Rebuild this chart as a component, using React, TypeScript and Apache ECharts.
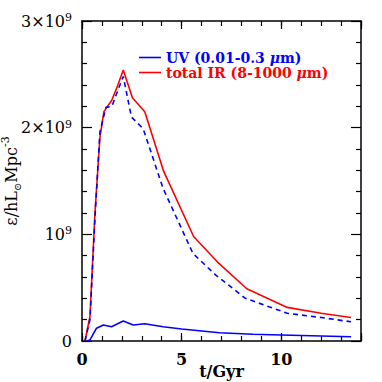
import React, { useEffect, useRef } from "react";
import * as echarts from "echarts";

// total IR (8-1000 um), units of 1e9 hL_sun Mpc^-3
const irT = [0.15, 0.4, 0.65, 0.9, 1.1, 1.5, 1.8, 2.07, 2.53, 3.15, 4.1, 5.6, 6.8, 8.27, 10.3, 12, 13.5];
const irV = [0, 0.23, 1.2, 1.91, 2.15, 2.26, 2.4, 2.54, 2.28, 2.15, 1.59, 0.98, 0.74, 0.49, 0.315, 0.26, 0.22];
// dashed (blue)
const dashT = [0.15, 0.4, 0.65, 0.9, 1.2, 1.5, 1.8, 2.07, 2.48, 3.07, 4.07, 5.57, 6.7, 8.2, 10.3, 12, 13.5];
const dashV = [0, 0.2, 1.15, 1.96, 2.19, 2.2, 2.35, 2.48, 2.1, 1.99, 1.43, 0.82, 0.62, 0.4, 0.26, 0.22, 0.18];
// UV (0.01-0.3 um)
const uvT = [0.25, 0.4, 0.73, 1.07, 1.48, 2.07, 2.57, 3.15, 4.07, 5, 6.9, 8.57, 10, 13.5];
const uvV = [0, 0.01, 0.12, 0.15, 0.134, 0.187, 0.15, 0.162, 0.134, 0.112, 0.078, 0.063, 0.056, 0.04];

const xMajorLabels = ["0", "5", "10"];
const yMantissa = ["0", "", "2×", "3×"];

const seriesNames = ["UV (0.01-0.3 μm)", "total IR (8-1000 μm)"];

const FONT = "DejaVu Serif";

export default function App() {
  const ref = useRef<HTMLDivElement>(null);
  useEffect(() => {
    if (!ref.current) return;
    const chart = echarts.init(ref.current, undefined, { renderer: "svg" });
    const zip = (t: number[], v: number[]) => t.map((x, i) => [x, v[i]]);
    const axLine = { show: true, onZero: false, lineStyle: { color: "#000", width: 1.5 } };
    const noLine = { show: false, onZero: false };
    const xBase = {
      type: "value",
      min: 0,
      max: 14,
      splitLine: { show: false },
      axisLine: axLine,
    };
    const yBase = {
      type: "value",
      min: 0,
      max: 3,
      interval: 1,
      splitLine: { show: false },
      axisLine: axLine,
      axisTick: { show: true, inside: true, length: 10, lineStyle: { color: "#000", width: 1.2 } },
      minorTick: { show: true, splitNumber: 5, length: 5, lineStyle: { color: "#000", width: 1.2 } },
    };
    const legendFmt = (name: string) => {
      const i = name.indexOf("μ");
      return "{a|" + name.slice(0, i) + "}{i|μ}{a|" + name.slice(i + 1) + "}";
    };
    chart.setOption({
      animation: false,
      grid: { left: 82, right: 21, top: 21, bottom: 41, containLabel: false, outerBoundsMode: "none" },
      legend: {
        orient: "vertical",
        left: 134,
        top: 45,
        icon: "rect",
        itemWidth: 22,
        itemHeight: 1.6,
        itemGap: 0,
        formatter: legendFmt,
        data: [
          { name: seriesNames[0], textStyle: { color: "#0000ff" } },
          { name: seriesNames[1], textStyle: { color: "#ff0000" } },
        ],
        textStyle: {
          fontFamily: FONT,
          fontSize: 14,
          fontWeight: "bold",
          lineHeight: 15,
          rich: {
            a: { fontFamily: FONT, fontSize: 14, fontWeight: "bold", lineHeight: 15 },
            i: { fontFamily: FONT, fontSize: 14, fontWeight: "bold", fontStyle: "italic", lineHeight: 15 },
          },
        },
      },
      xAxis: [
        {
          ...xBase,
          position: "bottom",
          interval: 5,
          axisTick: { show: true, inside: true, length: 8, lineStyle: { color: "#000", width: 1.2 } },
          axisLabel: {
            margin: 10,
            fontFamily: FONT,
            fontSize: 16,
            fontWeight: "bold",
            color: "#000",
            formatter: (v: number) => (v % 5 === 0 ? xMajorLabels[v / 5] ?? "" : ""),
          },
          name: "t/Gyr",
          nameLocation: "middle",
          nameGap: 22,
          nameMoveOverlap: false,
          nameTextStyle: { fontFamily: FONT, fontSize: 16, fontWeight: "bold", color: "#000" },
        },
        {
          ...xBase,
          position: "bottom",
          interval: 1,
          axisLine: noLine,
          axisTick: { show: true, inside: true, length: 5, lineStyle: { color: "#000", width: 1.2 } },
          axisLabel: { show: false },
        },
        {
          ...xBase,
          position: "top",
          interval: 5,
          axisTick: { show: true, inside: true, length: 8, lineStyle: { color: "#000", width: 1.2 } },
          axisLabel: { show: false },
        },
        {
          ...xBase,
          position: "top",
          interval: 1,
          axisLine: noLine,
          axisTick: { show: true, inside: true, length: 5, lineStyle: { color: "#000", width: 1.2 } },
          axisLabel: { show: false },
        },
      ],
      yAxis: [
        {
          ...yBase,
          position: "left",
          axisLabel: {
            margin: 10,
            color: "#000",
            formatter: (v: number) => {
              if (v === 0) return "{b|0}";
              return "{b|" + yMantissa[v] + "10}{s|9}";
            },
            rich: {
              b: { fontFamily: FONT, fontSize: 16, color: "#000", lineHeight: 18 },
              s: { fontFamily: FONT, fontSize: 11, color: "#000", lineHeight: 12, verticalAlign: "top" },
            },
          },
          name: "{a|ε/hL}{sub|⊙}{a|Mpc}{sup|-3}",
          nameLocation: "middle",
          nameRotate: 90,
          nameGap: 60,
          nameMoveOverlap: false,
          nameTextStyle: {
            color: "#000",
            padding: [0, 0, 0, 0],
            rich: {
              a: { fontFamily: FONT, fontSize: 16, color: "#000", lineHeight: 22 },
              sub: { fontFamily: FONT, fontSize: 10, color: "#000", lineHeight: 12, verticalAlign: "bottom" },
              sup: { fontFamily: FONT, fontSize: 11, color: "#000", lineHeight: 12, verticalAlign: "top" },
            },
          },
        },
        {
          ...yBase,
          position: "right",
          axisLabel: { show: false },
        },
      ],
      series: [
        {
          name: seriesNames[0],
          type: "line",
          xAxisIndex: 0,
          yAxisIndex: 0,
          symbol: "none",
          data: zip(uvT, uvV),
          lineStyle: { color: "#0000ff", width: 1.6 },
          itemStyle: { color: "#0000ff" },
        },
        {
          name: seriesNames[1],
          type: "line",
          xAxisIndex: 0,
          yAxisIndex: 0,
          symbol: "none",
          data: zip(irT, irV),
          lineStyle: { color: "#ff0000", width: 1.6 },
          itemStyle: { color: "#ff0000" },
        },
        {
          name: "dashed",
          type: "line",
          xAxisIndex: 0,
          yAxisIndex: 0,
          symbol: "none",
          data: zip(dashT, dashV),
          lineStyle: { color: "#0000ff", width: 1.6, type: [5, 4] },
          itemStyle: { color: "#0000ff" },
        },
      ],
    });
    return () => chart.dispose();
  }, []);
  return <div ref={ref} style={{ width: 382, height: 382, position: "absolute", left: 0, top: 0 }} />;
}
